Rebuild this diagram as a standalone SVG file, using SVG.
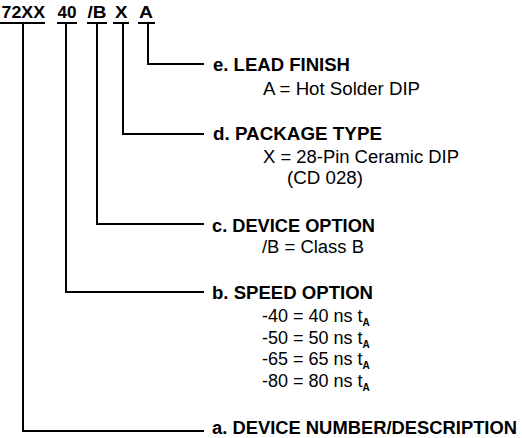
<svg xmlns="http://www.w3.org/2000/svg" width="522" height="438" viewBox="0 0 522 438">
<style>
.hd{font-family:"Liberation Sans",Arial,sans-serif;font-weight:bold;font-size:17px;fill:#000}
.lb{font-family:"Liberation Sans",Arial,sans-serif;font-weight:bold;font-size:18px;fill:#000}
.tx{font-family:"Liberation Sans",Arial,sans-serif;font-size:18px;fill:#000}
.sb{font-weight:bold;font-size:10px}
.ln{fill:none;stroke:#000;stroke-width:2}
</style>
<rect width="522" height="438" fill="#fff"/>
<g id="header">
<text class="hd" x="1.5" y="18" textLength="43.5" lengthAdjust="spacingAndGlyphs">72XX</text>
<text class="hd" x="57.5" y="18" textLength="19" lengthAdjust="spacingAndGlyphs">40</text>
<text class="hd" x="87.5" y="18" textLength="19" lengthAdjust="spacingAndGlyphs">/B</text>
<text class="hd" x="115" y="18" textLength="12.5" lengthAdjust="spacingAndGlyphs">X</text>
<text class="hd" x="139" y="18" textLength="14" lengthAdjust="spacingAndGlyphs">A</text>
<path class="ln" d="M0,23H45M57,23H77M87,23H107M113,23H129M138,23H155"/>
</g>
<g id="connectors">
<path class="ln" d="M148,23V64H204"/>
<path class="ln" d="M123,23V134H204"/>
<path class="ln" d="M97,23V224H204"/>
<path class="ln" d="M66,23V292H204"/>
<path class="ln" d="M23,23V431H204"/>
</g>
<g id="e">
<text class="lb" x="213" y="71" textLength="137" lengthAdjust="spacingAndGlyphs">e. LEAD FINISH</text>
<text class="tx" x="263" y="95" textLength="157" lengthAdjust="spacingAndGlyphs">A = Hot Solder DIP</text>
</g>
<g id="d">
<text class="lb" x="213" y="140" textLength="169" lengthAdjust="spacingAndGlyphs">d. PACKAGE TYPE</text>
<text class="tx" x="263" y="163" textLength="196" lengthAdjust="spacingAndGlyphs">X = 28-Pin Ceramic DIP</text>
<text class="tx" x="287" y="184" textLength="76" lengthAdjust="spacingAndGlyphs">(CD 028)</text>
</g>
<g id="c">
<text class="lb" x="212" y="232" textLength="163" lengthAdjust="spacingAndGlyphs">c. DEVICE OPTION</text>
<text class="tx" x="262" y="253" textLength="102" lengthAdjust="spacingAndGlyphs">/B = Class B</text>
</g>
<g id="b">
<text class="lb" x="212" y="299" textLength="161" lengthAdjust="spacingAndGlyphs">b. SPEED OPTION</text>
<text class="tx" x="262" y="322">-40 = 40 ns t<tspan class="sb" dy="4">A</tspan></text>
<text class="tx" x="262" y="344">-50 = 50 ns t<tspan class="sb" dy="4">A</tspan></text>
<text class="tx" x="262" y="365">-65 = 65 ns t<tspan class="sb" dy="4">A</tspan></text>
<text class="tx" x="262" y="387">-80 = 80 ns t<tspan class="sb" dy="4">A</tspan></text>
</g>
<g id="a">
<text class="lb" x="212" y="434" textLength="305" lengthAdjust="spacingAndGlyphs">a. DEVICE NUMBER/DESCRIPTION</text>
</g>
</svg>
